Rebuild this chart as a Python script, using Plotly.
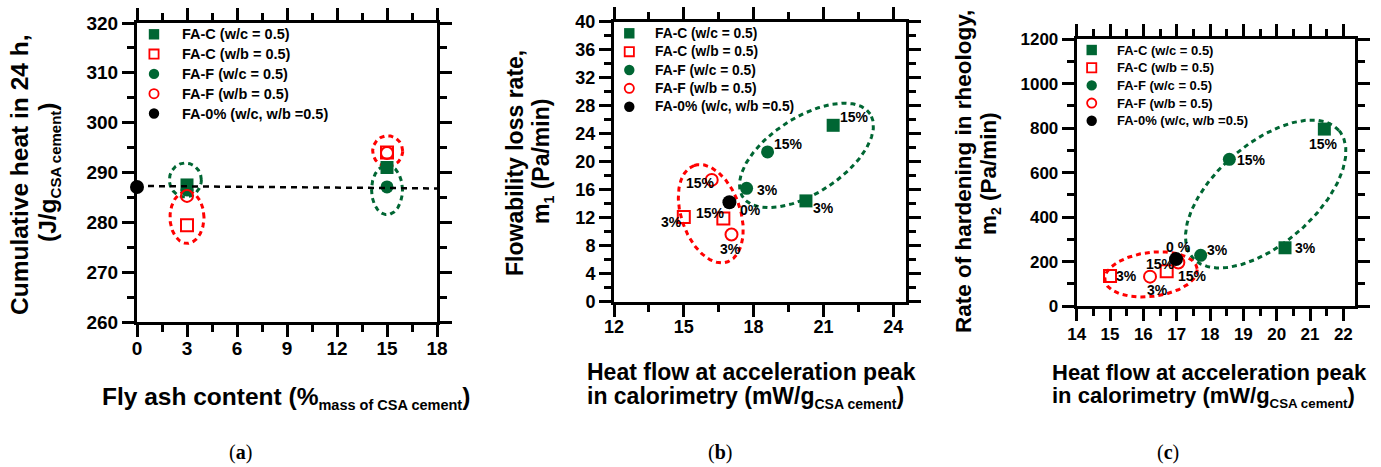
import numpy as np
import plotly.graph_objects as go

W, H = 1381, 467
GREEN = "#006633"
RED = "#FF0000"
FONT = "Liberation Sans, Arial, sans-serif"

# ---------------- data ----------------
# (a) cumulative heat vs fly ash content
A_X = [3, 15]
A_FAC_WC = [287.5, 291.0]
A_FAC_WB = [279.4, 294.0]
A_FAF_WC = [286.5, 287.1]
A_FAF_WB = [285.3, 293.9]
A_REF_X = [0]
A_REF_Y = [287.1]
A_FIT_X = [0, 18]
A_FIT_Y = [287.3, 286.8]

# (b) flowability loss rate vs heat flow
B_FAC_WC_X = [21.42, 20.25]; B_FAC_WC_Y = [25.2, 14.4]; B_FAC_WC_L = ["15%", "3%"]
B_FAC_WB_X = [15.0, 16.7];   B_FAC_WB_Y = [12.1, 11.9]; B_FAC_WB_L = ["3%", "15%"]
B_FAF_WC_X = [18.6, 17.7];   B_FAF_WC_Y = [21.4, 16.2]; B_FAF_WC_L = ["15%", "3%"]
B_FAF_WB_X = [16.2, 17.05];  B_FAF_WB_Y = [17.4, 9.6];  B_FAF_WB_L = ["15%", "3%"]
B_REF_X = [16.96]; B_REF_Y = [14.2]; B_REF_L = ["0%"]

# (c) rate of hardening vs heat flow
C_FAC_WC_X = [21.43, 20.25]; C_FAC_WC_Y = [796, 262]; C_FAC_WC_L = ["15%", "3%"]
C_FAC_WB_X = [15.0, 16.7];   C_FAC_WB_Y = [135, 156]; C_FAC_WB_L = ["3%", "15%"]
C_FAF_WC_X = [18.58, 17.72]; C_FAF_WC_Y = [660, 228]; C_FAF_WC_L = ["15%", "3%"]
C_FAF_WB_X = [16.2, 17.05];  C_FAF_WB_Y = [132, 196]; C_FAF_WB_L = ["3%", "15%"]
C_REF_X = [16.98]; C_REF_Y = [211]; C_REF_L = ["0 %"]

NAMES = ["FA-C (w/c = 0.5)", "FA-C (w/b = 0.5)", "FA-F (w/c = 0.5)",
         "FA-F (w/b = 0.5)", "FA-0% (w/c, w/b =0.5)"]

# ---------------- layout geometry (pixels) ----------------
def dom_x(l, r):
    return [l / W, r / W]

def dom_y(t, b):
    return [1 - b / H, 1 - t / H]

PANELS = {
    "a": dict(xd=dom_x(137, 437), yd=dom_y(23, 322), xr=[0, 18], yr=[260, 320],
              xdt=3, xt0=0, xm=1.5, ydt=10, ym=5, tf=19, so=-5),
    "b": dict(xd=dom_x(614, 906), yd=dom_y(21.7, 301.7), xr=[12, 24.55], yr=[0, 40],
              xdt=3, xt0=12, xm=1.5, ydt=4, ym=2, tf=18, so=-5),
    "c": dict(xd=dom_x(1076.7, 1355), yd=dom_y(39.3, 306), xr=[14, 22.35], yr=[0, 1200],
              xdt=1, xt0=14, xm=0.5, ydt=200, ym=100, tf=17, so=-1),
}
AX = {"a": ("x", "y"), "b": ("x2", "y2"), "c": ("x3", "y3")}


def ellipse(p, cx, cy, a_px, b_px, ang):
    P = PANELS[p]
    ppx = (P["xd"][1] - P["xd"][0]) * W / (P["xr"][1] - P["xr"][0])
    ppy = (P["yd"][1] - P["yd"][0]) * H / (P["yr"][1] - P["yr"][0])
    t = np.linspace(0, 2 * np.pi, 240)
    th = np.radians(ang)
    u, v = a_px * np.cos(t), b_px * np.sin(t)
    X = u * np.cos(th) - v * np.sin(th)
    Y = u * np.sin(th) + v * np.cos(th)
    return cx + X / ppx, cy + Y / ppy


# ellipse decorations: panel, colour, centre, semi-axes (px), angle
ELLIPSES = [
    ("a", GREEN, 2.9, 288.5, 16, 17, 0),
    ("a", RED, 3.0, 281.0, 17, 26, 0),
    ("a", RED, 15.04, 294.3, 15, 15.3, 0),
    ("a", GREEN, 15.0, 286.5, 15.5, 24.7, 0),
    ("b", GREEN, 20.27, 20.9, 76, 38, 33),
    ("b", RED, 16.16, 12.57, 51, 29.5, 109),
    ("c", GREEN, 19.67, 504, 97, 50, 41),
    ("c", RED, 16.23, 142, 46.5, 22, 7),
]

fig = go.Figure()

for p, col, cx, cy, a, b, ang in ELLIPSES:
    ex, ey = ellipse(p, cx, cy, a, b, ang)
    xa, ya = AX[p]
    fig.add_trace(go.Scatter(x=ex, y=ey, mode="lines", xaxis=xa, yaxis=ya,
                             line=dict(color=col, width=3, dash="5px,4px"),
                             showlegend=False, hoverinfo="skip"))

STY = [
    dict(symbol="square", size=13, color=GREEN),
    dict(symbol="square-open", size=12, color=RED, line=dict(width=2, color=RED)),
    dict(symbol="circle", size=13, color=GREEN),
    dict(symbol="circle-open", size=12, color=RED, line=dict(width=2, color=RED)),
    dict(symbol="circle", size=14, color="black"),
]
# draw order: green squares, green circles, red squares, red circles, black
ORDER = [0, 2, 1, 3, 4]

SERIES = {
    "a": [(A_X, A_FAC_WC, None), (A_X, A_FAC_WB, None), (A_X, A_FAF_WC, None),
          (A_X, A_FAF_WB, None), (A_REF_X, A_REF_Y, None)],
    "b": [(B_FAC_WC_X, B_FAC_WC_Y, B_FAC_WC_L), (B_FAC_WB_X, B_FAC_WB_Y, B_FAC_WB_L),
          (B_FAF_WC_X, B_FAF_WC_Y, B_FAF_WC_L), (B_FAF_WB_X, B_FAF_WB_Y, B_FAF_WB_L),
          (B_REF_X, B_REF_Y, B_REF_L)],
    "c": [(C_FAC_WC_X, C_FAC_WC_Y, C_FAC_WC_L), (C_FAC_WB_X, C_FAC_WB_Y, C_FAC_WB_L),
          (C_FAF_WC_X, C_FAF_WC_Y, C_FAF_WC_L), (C_FAF_WB_X, C_FAF_WB_Y, C_FAF_WB_L),
          (C_REF_X, C_REF_Y, C_REF_L)],
}

# label offsets (px, right / up) for the percentage labels
LBL_OFF = {
    "b": [[(21, 8), (18, -7)], [(-12, -5), (-13, 5)], [(21, 8), (21, -2)],
          [(-11, -3), (-1, -14)], [(21, -8)]],
    "c": [[(-1, -15), (20, 0)], [(16, 0), (-6, 7)], [(22, -1), (17, 5)],
          [(7, -13), (14, -14)], [(2, 12)]],
}

annotations = []
shapes = []
for p in ["a", "b", "c"]:
    xa, ya = AX[p]
    for k in ORDER:
        xs, ys, labels = SERIES[p][k]
        fig.add_trace(go.Scatter(x=xs, y=ys, mode="markers", xaxis=xa, yaxis=ya,
                                 name=NAMES[k], showlegend=False,
                                 marker=STY[k], cliponaxis=False))
        if labels:
            for i, (xv, yv, lb) in enumerate(zip(xs, ys, labels)):
                dx, dy = LBL_OFF[p][k][i]
                annotations.append(dict(x=xv, y=yv, xref=xa, yref=ya, text="<b>%s</b>" % lb,
                                        showarrow=False, xshift=dx, yshift=dy,
                                        font=dict(family=FONT, size=14, color="black")))
        if p == "a" and k == 2:
            # fitted reference line in (a), drawn over the green markers
            fig.add_trace(go.Scatter(x=A_FIT_X, y=A_FIT_Y, mode="lines", xaxis="x", yaxis="y",
                                     line=dict(color="black", width=2.5, dash="6px,5px"),
                                     showlegend=False, hoverinfo="skip"))


def paper_ann(text, x, y, size, angle=0, xanchor="center", family=FONT):
    annotations.append(dict(text=text, x=x / W, y=1 - y / H, xref="paper", yref="paper",
                            showarrow=False, textangle=angle, xanchor=xanchor,
                            yanchor="middle", font=dict(family=family, size=size, color="black")))


def sub(t, size):
    return "<sub><span style='font-size:%gpx'>%s</span></sub>" % (size, t)

# axis titles
paper_ann("<b>Cumulative heat in 24 h,</b>", 20, 175, 24.5, -90)
paper_ann("<b>(J/g%s)</b>" % sub("CSA cement", 15), 49, 172, 24.5, -90)
paper_ann("<b>Fly ash content (%%%s)</b>" % sub("mass of CSA cement", 14.5), 100, 398, 24.5, 0, "left")

paper_ann("<b>Flowability loss rate,</b>", 515, 163, 23, -90)
paper_ann("<b>m%s (Pa/min)</b>" % sub("1", 14), 543, 162, 23, -90)
paper_ann("<b>Heat flow at acceleration peak</b>", 585, 372, 23, 0, "left")
paper_ann("<b>in calorimetry (mW/g%s)</b>" % sub("CSA cement", 14), 585, 397, 23, 0, "left")

paper_ann("<b>Rate of hardening in rheology,</b>", 963, 172, 22.5, -90)
paper_ann("<b>m%s (Pa/min)</b>" % sub("2", 14), 990, 173, 22.5, -90)
paper_ann("<b>Heat flow at acceleration peak</b>", 1050, 372, 22, 0, "left")
paper_ann("<b>in calorimetry (mW/g%s)</b>" % sub("CSA cement", 13.3), 1050, 397, 22, 0, "left")

SERIF = "Liberation Serif, Times New Roman, serif"
paper_ann("(<b>a</b>)", 240, 452, 20, 0, "center", SERIF)
paper_ann("(<b>b</b>)", 720, 452, 20, 0, "center", SERIF)
paper_ann("(<b>c</b>)", 1168, 452, 20, 0, "center", SERIF)

# legend boxes drawn per panel: symbol x, text x, first row y, row step, font size
LEGENDS = [(154, 180, 34.3, 19.8, 14.5), (629.3, 653.3, 33.3, 18.35, 13.8),
           (1091.7, 1115, 50, 17.7, 13)]
LEG_SYM = [("rect", GREEN, True), ("rect", RED, False), ("circle", GREEN, True),
           ("circle", RED, False), ("circle", "black", True)]
for sx, tx, y0, dy, fs in LEGENDS:
    for k, name in enumerate(NAMES):
        yy = y0 + k * dy
        paper_ann("<b>%s</b>" % name, tx, yy, fs, 0, "left")
        typ, col, filled = LEG_SYM[k]
        r = 5.2 if filled else 4.6
        shapes.append(dict(type=typ, xref="paper", yref="paper",
                           x0=(sx - r) / W, x1=(sx + r) / W,
                           y0=1 - (yy + r) / H, y1=1 - (yy - r) / H,
                           fillcolor=col if filled else "rgba(0,0,0,0)",
                           line=dict(color=col, width=0 if filled else 1.8)))

layout = dict(template="none", width=W, height=H,
              margin=dict(l=0, r=0, t=0, b=0, autoexpand=False),
              paper_bgcolor="white", plot_bgcolor="white",
              annotations=annotations, shapes=shapes, showlegend=False)


def axis_common(tf):
    return dict(showline=True, linewidth=3, linecolor="black", mirror="ticks",
                ticks="outside", ticklen=12, tickwidth=3, tickcolor="#000000",
                showgrid=False, zeroline=False, automargin=False,
                tickfont=dict(family=FONT, size=tf, color="black", weight="bold"))

for idx, p in enumerate(["a", "b", "c"]):
    P = PANELS[p]
    suf = "" if idx == 0 else str(idx + 1)
    xa = axis_common(P["tf"])
    xa.update(domain=P["xd"], range=P["xr"], tick0=P["xt0"], dtick=P["xdt"],
              anchor="y" + suf, ticklabelstandoff=P["so"],
              minor=dict(dtick=P["xm"], ticklen=7, tickwidth=2.5, ticks="outside",
                         tickcolor="#000000", showgrid=False))
    ya = axis_common(P["tf"])
    ya.update(domain=P["yd"], range=P["yr"], tick0=P["yr"][0], dtick=P["ydt"],
              anchor="x" + suf,
              minor=dict(dtick=P["ym"], ticklen=7, tickwidth=2.5, ticks="outside",
                         tickcolor="#000000", showgrid=False))
    layout["xaxis" + suf] = xa
    layout["yaxis" + suf] = ya

fig.update_layout(**layout)
fig.write_html("out.html", config={"displayModeBar": False},
               post_script="document.body.style.margin='0px';")
